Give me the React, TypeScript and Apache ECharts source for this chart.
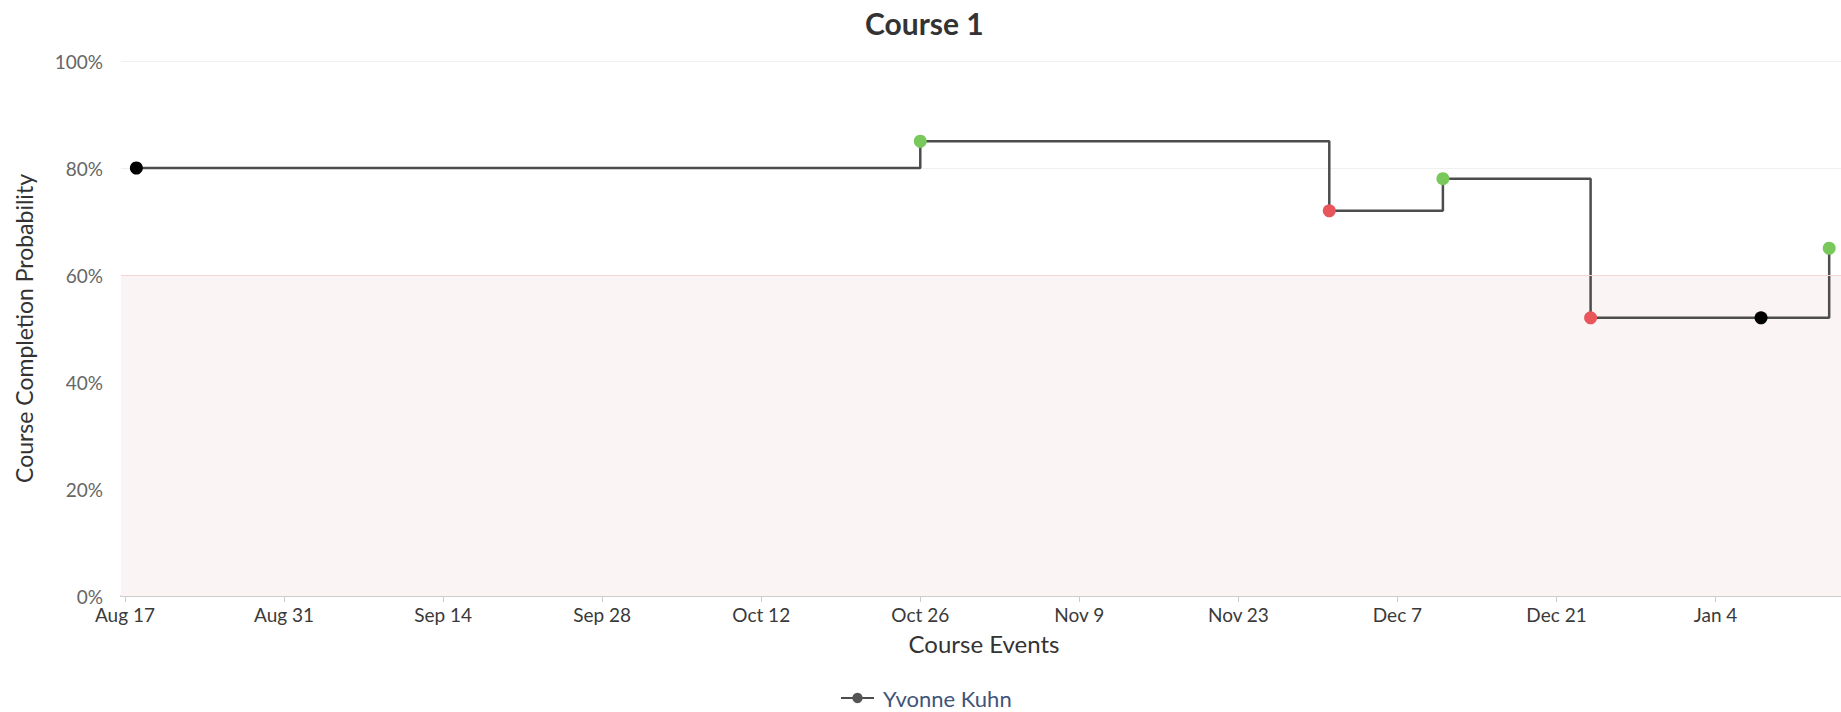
import React, { useEffect, useRef } from "react";
import * as echarts from "echarts";

const title = "Course 1";
const seriesName = "Yvonne Kuhn";
const eventDates = ["2015-08-18", "2015-10-26", "2015-12-01", "2015-12-11", "2015-12-24", "2016-01-08", "2016-01-14"];
const probabilities = [80, 85, 72, 78, 52, 52, 65];
const eventKinds = ["neutral", "up", "down", "up", "down", "neutral", "up"];
const tickDates = ["2015-08-17", "2015-08-31", "2015-09-14", "2015-09-28", "2015-10-12", "2015-10-26", "2015-11-09", "2015-11-23", "2015-12-07", "2015-12-21", "2016-01-04"];
const yTicks = [0, 20, 40, 60, 80, 100];
const riskThreshold = 60;

const kindColors: Record<string, string> = { neutral: "#000000", up: "#78c85c", down: "#e8555a" };
const MONTHS = ["Jan", "Feb", "Mar", "Apr", "May", "Jun", "Jul", "Aug", "Sep", "Oct", "Nov", "Dec"];
const DAY = 86400000;
const ts = (s: string) => {
  const [y, m, d] = s.split("-").map(Number);
  return Date.UTC(y, m - 1, d);
};
const origin = ts(tickDates[0]);
const dayIndex = (s: string) => Math.round((ts(s) - origin) / DAY);
const dayLabel = (v: number) => {
  const d = new Date(origin + Math.round(v) * DAY);
  return MONTHS[d.getUTCMonth()] + " " + d.getUTCDate();
};

export default function App() {
  const ref = useRef<HTMLDivElement>(null);
  useEffect(() => {
    if (!ref.current) return;
    const chart = echarts.init(ref.current, null, { renderer: "svg" });
    const tickDays = tickDates.map(dayIndex);
    const option: any = {
      animation: false,
      backgroundColor: "#ffffff",
      textStyle: { fontFamily: "Lato" },
      title: {
        text: title,
        left: 865,
        top: 8,
        padding: 0,
        textStyle: { fontFamily: "Lato", fontWeight: "bold", fontSize: 30, color: "#333333" },
      },
      legend: {
        left: 840,
        top: 687,
        padding: 0,
        itemWidth: 33,
        itemHeight: 13,
        itemGap: 8,
        textStyle: { fontFamily: "Lato", fontSize: 22, lineHeight: 22, color: "#3f5479", padding: [0, 0, 0, 4] },
        data: [seriesName],
      },
      grid: { left: 121, right: 0, top: 61, bottom: 116, containLabel: false },
      xAxis: {
        type: "value",
        min: -0.352,
        max: 151.04,
        axisLine: { show: true, lineStyle: { color: "#cccccc", width: 2 } },
        axisTick: { show: true, length: 6, lineStyle: { color: "#cccccc" }, customValues: tickDays },
        axisLabel: {
          customValues: tickDays,
          margin: 9,
          fontFamily: "Lato",
          fontSize: 19,
          color: "#3a3a3a",
          formatter: (v: number) => dayLabel(v),
        },
        splitLine: { show: false },
      },
      yAxis: {
        type: "value",
        min: 0,
        max: 100,
        interval: 20,
        name: "Course Completion Probability",
        nameLocation: "middle",
        nameGap: 86,
        nameTextStyle: { fontFamily: "Lato", fontSize: 23, color: "#333333" },
        axisLine: { show: false },
        axisTick: { show: false },
        axisLabel: { margin: 18, fontFamily: "Lato", fontSize: 19, color: "#666666", formatter: (v: number) => (yTicks.includes(v) ? v + "%" : "") },
        splitLine: { show: true, lineStyle: { color: "#f0f0f0", width: 1 } },
      },
      graphic: [
        {
          type: "text",
          x: 984,
          y: 643,
          style: {
            text: "Course Events",
            fontFamily: "Lato",
            fontSize: 24,
            fill: "#333333",
            textAlign: "center",
            textVerticalAlign: "middle",
          },
        },
      ],
      series: [
        {
          name: seriesName,
          type: "line",
          step: "end",
          symbol: "circle",
          symbolSize: 13,
          color: "#555555",
          lineStyle: { color: "#4d4d4d", width: 2.5 },
          itemStyle: { color: "#555555" },
          data: eventDates.map((d, i) => ({
            value: [dayIndex(d), probabilities[i]],
            itemStyle: { color: kindColors[eventKinds[i]] },
          })),
          markArea: {
            silent: true,
            itemStyle: { color: "#fbf4f4" },
            data: [[{ yAxis: 0 }, { yAxis: riskThreshold }]],
          },
          markLine: {
            silent: true,
            symbol: "none",
            label: { show: false },
            lineStyle: { color: "#f3d3d3", type: "solid", width: 1 },
            data: [{ yAxis: riskThreshold }],
          },
          z: 3,
        },
      ],
    };
    chart.setOption(option);
    return () => chart.dispose();
  }, []);
  return <div ref={ref} style={{ position: "absolute", left: 0, top: 0, width: 1841, height: 712 }} />;
}
